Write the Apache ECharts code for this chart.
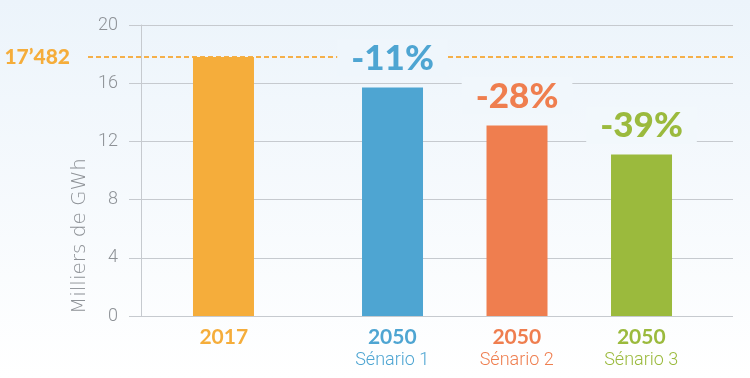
<!DOCTYPE html>
<html>
<head>
<meta charset="utf-8">
<script src="https://cdn.jsdelivr.net/npm/echarts@6/dist/echarts.min.js"></script>
<style>
html,body{margin:0;padding:0;background:#fff;}
#c{width:750px;height:378px;}
</style>
</head>
<body>
<div id="c"></div>
<script>
// ---- data ----
var categories = ['2017', '2050', '2050', '2050'];
var subLabels = ['', 'Sénario 1', 'Sénario 2', 'Sénario 3'];
var refValues = [17.8, '-', '-', '-'];
var scenarioValues = ['-', 15.7, 13.1, 11.1];
var pctLabels = ['', '-11%', '-28%', '-39%'];
var refLineValue = 17.8;
var refLineLabel = '17\u2019482';
var yTicks = [0, 4, 8, 12, 16, 20];
var colors = ['#f5ad3b', '#4ea5d2', '#ef7e4f', '#9bba3d'];
var boxBg = ['#eff6fc', '#eff6fc', '#f1f7fc', '#f2f8fc'];

var chart = echarts.init(document.getElementById('c'));

// label shift so that each label sits under its bar (bars are offset from category centres)
var shift = 44;
var rich = {};
colors.forEach(function (c, i) {
  var pad = i === 0 ? [0, shift, 0, 0] : [0, 0, 0, shift];
  rich['y' + i] = { color: c, fontSize: 21, fontWeight: 'bold', fontFamily: 'Lato', lineHeight: 23, padding: pad };
  rich['s' + i] = { color: c, fontSize: 18, fontWeight: 300, fontFamily: 'Roboto', lineHeight: 22, padding: pad };
});

function barItems(vals, withLabel) {
  return vals.map(function (v, i) {
    if (v === '-') return '-';
    var it = { value: v, itemStyle: { color: colors[i] } };
    if (withLabel) {
      it.label = { color: colors[i], backgroundColor: boxBg[i] };
    }
    return it;
  });
}

var grids = { top: 25, bottom: 62 };

var option = {
  backgroundColor: {
    type: 'linear', x: 0, y: 0, x2: 0, y2: 1,
    colorStops: [{ offset: 0, color: '#ecf4fb' }, { offset: 1, color: '#ffffff' }]
  },
  animation: false,
  grid: [
    { left: 141, right: 17, top: grids.top, bottom: grids.bottom },
    { left: 183.5, right: 68.5, top: grids.top, bottom: grids.bottom },
    { left: 88, right: 17, top: grids.top, bottom: grids.bottom }
  ],
  xAxis: [
    { gridIndex: 0, type: 'category', data: categories, show: false },
    {
      gridIndex: 1, type: 'category', data: categories,
      axisLine: { show: false }, axisTick: { show: false },
      axisLabel: {
        margin: 10,
        formatter: function (v, i) {
          var s = '{y' + i + '|' + v + '}';
          if (subLabels[i]) s += '\n{s' + i + '|' + subLabels[i] + '}';
          return s;
        },
        rich: rich
      }
    },
    { gridIndex: 2, type: 'category', data: categories, show: false }
  ],
  yAxis: [
    {
      gridIndex: 0, type: 'value', min: yTicks[0], max: yTicks[yTicks.length - 1], interval: 4,
      axisLine: { show: true, lineStyle: { color: '#c6cacf' } },
      axisTick: { show: true, length: 12, lineStyle: { color: '#c6cacf' } },
      splitLine: { show: true, lineStyle: { color: '#c6cacf', width: 1 } },
      axisLabel: { color: '#8e9297', fontSize: 18, fontFamily: 'Roboto', fontWeight: 300, margin: 23 }
    },
    { gridIndex: 1, type: 'value', min: 0, max: 20, show: false },
    { gridIndex: 2, type: 'value', min: 0, max: 20, show: false }
  ],
  graphic: [{
    type: 'text', x: 80, y: 236, rotation: Math.PI / 2,
    style: {
      text: 'Milliers de GWh', fill: '#8e9297', fontSize: 20, fontFamily: 'DejaVu Sans', fontWeight: 200,
      align: 'center', verticalAlign: 'middle'
    }
  }],
  series: [
    {
      type: 'bar', xAxisIndex: 2, yAxisIndex: 2, data: [], z: 1,
      markLine: {
        silent: true, symbol: 'none', z: 1,
        lineStyle: { color: '#f5b04a', type: [5, 3], width: 2 },
        label: {
          position: 'start', distance: 18, formatter: refLineLabel,
          color: '#f5ad3b', fontSize: 21, fontWeight: 900, fontFamily: 'Lato'
        },
        data: [{ yAxis: refLineValue }]
      }
    },
    {
      type: 'bar', xAxisIndex: 1, yAxisIndex: 1, barWidth: 61, barGap: '-27%',
      data: barItems(refValues, false), z: 6
    },
    {
      type: 'bar', xAxisIndex: 1, yAxisIndex: 1, barWidth: 61,
      data: barItems(scenarioValues, true), z: 6,
      label: {
        show: true, position: 'top', distance: 11,
        formatter: function (p) { return pctLabels[p.dataIndex]; },
        fontSize: 35, fontWeight: 900, fontFamily: 'Lato',
        padding: [2, 14, 0, 14]
      }
    }
  ]
};
chart.setOption(option);
</script>
</body>
</html>
